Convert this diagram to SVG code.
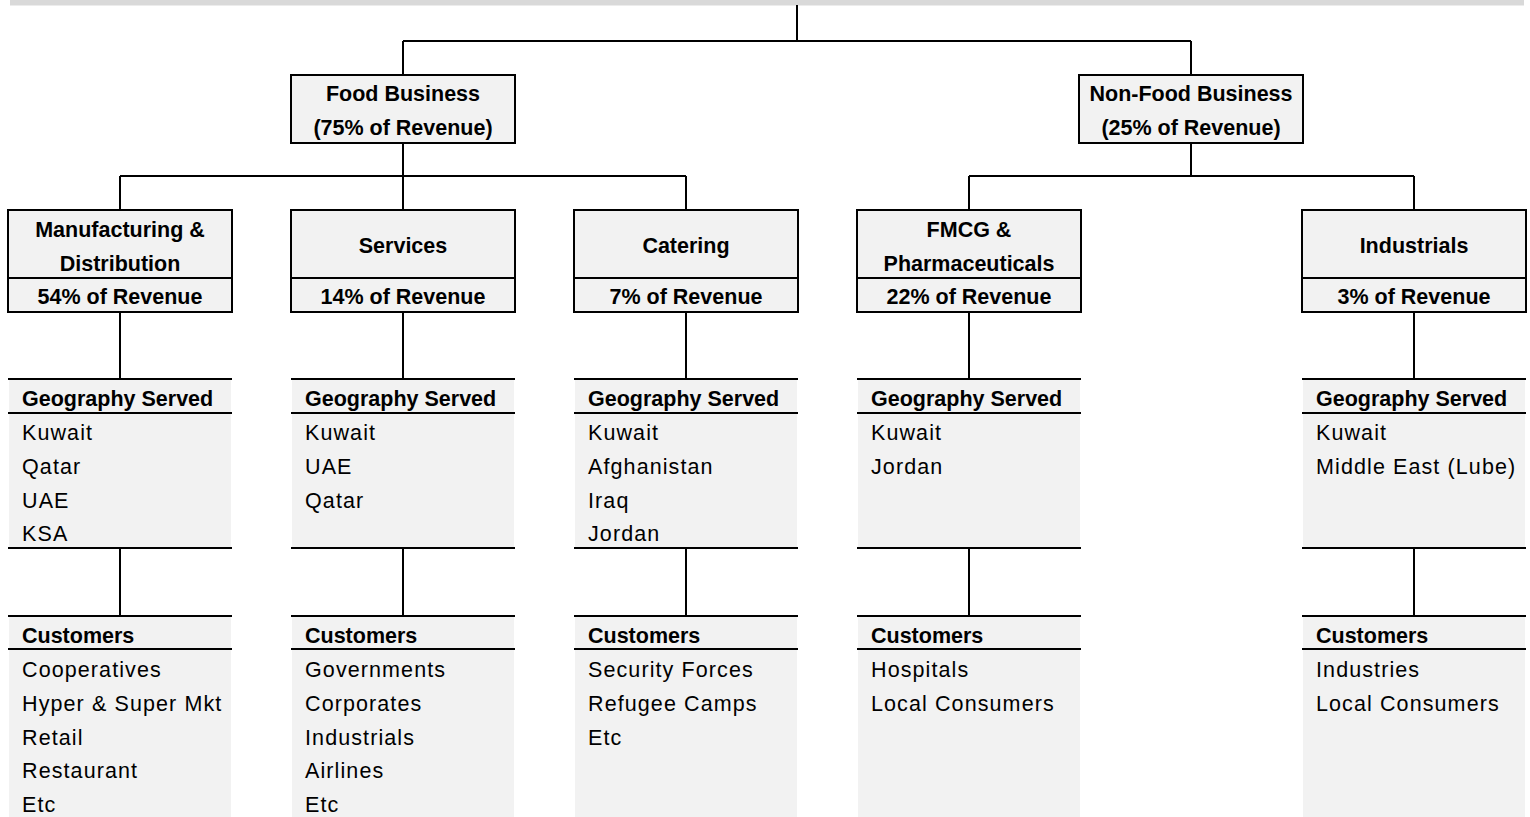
<svg xmlns="http://www.w3.org/2000/svg" width="1530" height="817" viewBox="0 0 1530 817">
<style>
.bx{fill:#f2f2f2;stroke:#000;stroke-width:2}
.tf{fill:#f2f2f2}
.ln{stroke:#000;stroke-width:2;fill:none}
.b{font-family:"Liberation Sans",Arial,sans-serif;font-weight:bold;font-size:21.5px;fill:#000}
.c{text-anchor:middle}
.r{font-family:"Liberation Sans",Arial,sans-serif;font-size:21.5px;letter-spacing:1.1px;fill:#000}
</style>
<rect x="10" y="0" width="1514" height="5.5" fill="#d9d9d9"/>
<g id="connectors" class="ln">
<path d="M797 5V41M403 41H1191M403 41V75M1191 41V75"/>
<path d="M403 143V176M120 176H686M120 176V210M403 176V210M686 176V210"/>
<path d="M1191 143V176M969 176H1414M969 176V210M1414 176V210"/>
<path d="M120 312V379M403 312V379M686 312V379M969 312V379M1414 312V379"/>
<path d="M120 548V616M403 548V616M686 548V616M969 548V616M1414 548V616"/>
</g>
<g id="food">
<rect class="bx" x="291" y="75" width="224" height="68"/>
<text class="b c" x="403" y="101">Food Business</text>
<text class="b c" x="403" y="135">(75% of Revenue)</text>
</g>
<g id="nonfood">
<rect class="bx" x="1079" y="75" width="224" height="68"/>
<text class="b c" x="1191" y="101">Non-Food Business</text>
<text class="b c" x="1191" y="135">(25% of Revenue)</text>
</g>
<g id="manufacturing">
<rect class="bx" x="8" y="210" width="224" height="102"/>
<path class="ln" d="M8 278H232"/>
<text class="b c" x="120" y="237">Manufacturing &amp;</text>
<text class="b c" x="120" y="271">Distribution</text>
<text class="b c" x="120" y="304">54% of Revenue</text>
</g>
<g id="services">
<rect class="bx" x="291" y="210" width="224" height="102"/>
<path class="ln" d="M291 278H515"/>
<text class="b c" x="403" y="253">Services</text>
<text class="b c" x="403" y="304">14% of Revenue</text>
</g>
<g id="catering">
<rect class="bx" x="574" y="210" width="224" height="102"/>
<path class="ln" d="M574 278H798"/>
<text class="b c" x="686" y="253">Catering</text>
<text class="b c" x="686" y="304">7% of Revenue</text>
</g>
<g id="fmcg">
<rect class="bx" x="857" y="210" width="224" height="102"/>
<path class="ln" d="M857 278H1081"/>
<text class="b c" x="969" y="237">FMCG &amp;</text>
<text class="b c" x="969" y="271">Pharmaceuticals</text>
<text class="b c" x="969" y="304">22% of Revenue</text>
</g>
<g id="industrials">
<rect class="bx" x="1302" y="210" width="224" height="102"/>
<path class="ln" d="M1302 278H1526"/>
<text class="b c" x="1414" y="253">Industrials</text>
<text class="b c" x="1414" y="304">3% of Revenue</text>
</g>
<g id="geo-manufacturing">
<rect class="tf" x="9" y="379" width="222" height="169"/>
<path class="ln" d="M8 379H232M8 413H232M8 548H232"/>
<text class="b" x="22" y="406">Geography Served</text>
<text class="r" x="22" y="440">Kuwait</text>
<text class="r" x="22" y="474">Qatar</text>
<text class="r" x="22" y="507.5">UAE</text>
<text class="r" x="22" y="541">KSA</text>
</g>
<g id="geo-services">
<rect class="tf" x="292" y="379" width="222" height="169"/>
<path class="ln" d="M291 379H515M291 413H515M291 548H515"/>
<text class="b" x="305" y="406">Geography Served</text>
<text class="r" x="305" y="440">Kuwait</text>
<text class="r" x="305" y="474">UAE</text>
<text class="r" x="305" y="507.5">Qatar</text>
</g>
<g id="geo-catering">
<rect class="tf" x="575" y="379" width="222" height="169"/>
<path class="ln" d="M574 379H798M574 413H798M574 548H798"/>
<text class="b" x="588" y="406">Geography Served</text>
<text class="r" x="588" y="440">Kuwait</text>
<text class="r" x="588" y="474">Afghanistan</text>
<text class="r" x="588" y="507.5">Iraq</text>
<text class="r" x="588" y="541">Jordan</text>
</g>
<g id="geo-fmcg">
<rect class="tf" x="858" y="379" width="222" height="169"/>
<path class="ln" d="M857 379H1081M857 413H1081M857 548H1081"/>
<text class="b" x="871" y="406">Geography Served</text>
<text class="r" x="871" y="440">Kuwait</text>
<text class="r" x="871" y="474">Jordan</text>
</g>
<g id="geo-industrials">
<rect class="tf" x="1303" y="379" width="222" height="169"/>
<path class="ln" d="M1302 379H1526M1302 413H1526M1302 548H1526"/>
<text class="b" x="1316" y="406">Geography Served</text>
<text class="r" x="1316" y="440">Kuwait</text>
<text class="r" x="1316" y="474">Middle East (Lube)</text>
</g>
<g id="cust-manufacturing">
<rect class="tf" x="9" y="616" width="222" height="201"/>
<path class="ln" d="M8 616H232M8 649H232"/>
<text class="b" x="22" y="643">Customers</text>
<text class="r" x="22" y="677">Cooperatives</text>
<text class="r" x="22" y="711">Hyper &amp; Super Mkt</text>
<text class="r" x="22" y="744.5">Retail</text>
<text class="r" x="22" y="778">Restaurant</text>
<text class="r" x="22" y="812">Etc</text>
</g>
<g id="cust-services">
<rect class="tf" x="292" y="616" width="222" height="201"/>
<path class="ln" d="M291 616H515M291 649H515"/>
<text class="b" x="305" y="643">Customers</text>
<text class="r" x="305" y="677">Governments</text>
<text class="r" x="305" y="711">Corporates</text>
<text class="r" x="305" y="744.5">Industrials</text>
<text class="r" x="305" y="778">Airlines</text>
<text class="r" x="305" y="812">Etc</text>
</g>
<g id="cust-catering">
<rect class="tf" x="575" y="616" width="222" height="201"/>
<path class="ln" d="M574 616H798M574 649H798"/>
<text class="b" x="588" y="643">Customers</text>
<text class="r" x="588" y="677">Security Forces</text>
<text class="r" x="588" y="711">Refugee Camps</text>
<text class="r" x="588" y="744.5">Etc</text>
</g>
<g id="cust-fmcg">
<rect class="tf" x="858" y="616" width="222" height="201"/>
<path class="ln" d="M857 616H1081M857 649H1081"/>
<text class="b" x="871" y="643">Customers</text>
<text class="r" x="871" y="677">Hospitals</text>
<text class="r" x="871" y="711">Local Consumers</text>
</g>
<g id="cust-industrials">
<rect class="tf" x="1303" y="616" width="222" height="201"/>
<path class="ln" d="M1302 616H1526M1302 649H1526"/>
<text class="b" x="1316" y="643">Customers</text>
<text class="r" x="1316" y="677">Industries</text>
<text class="r" x="1316" y="711">Local Consumers</text>
</g>
</svg>
